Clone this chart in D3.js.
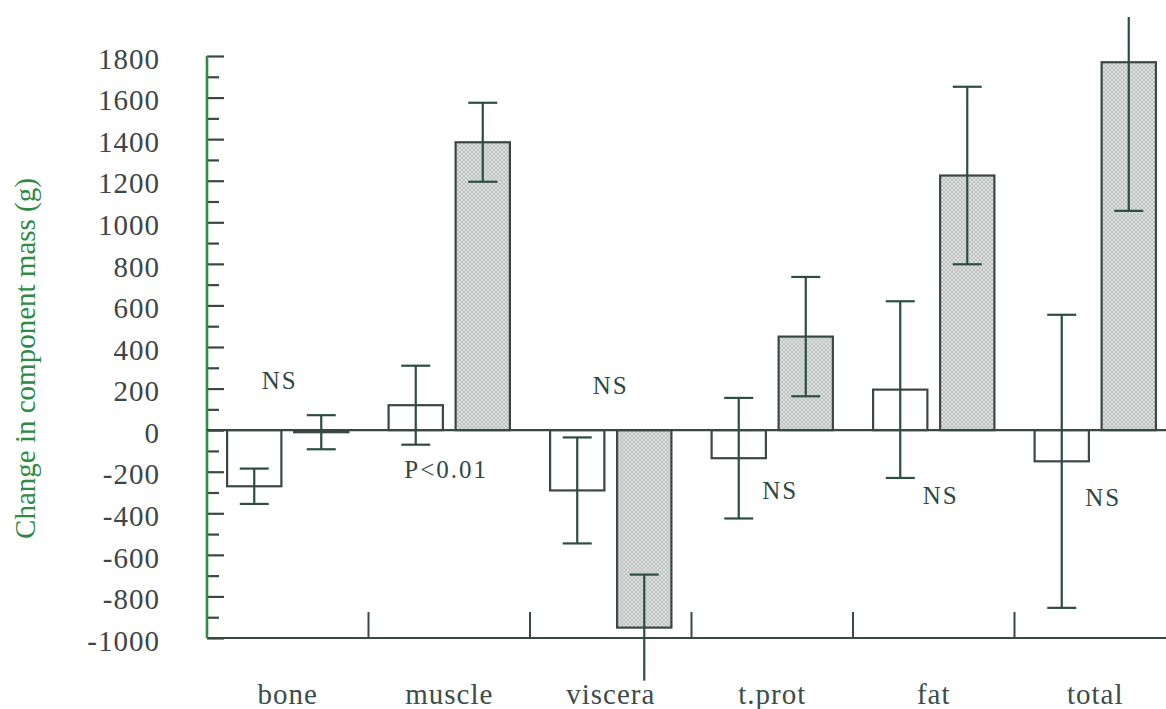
<!DOCTYPE html>
<html>
<head>
<meta charset="utf-8">
<script src="https://cdn.jsdelivr.net/npm/d3@7/dist/d3.min.js"></script>
<style>
  html, body { margin: 0; padding: 0; background: #fff; }
  svg { display: block; }
</style>
</head>
<body>
<svg id="chart" width="1166" height="709"></svg>
<script>
// Change in body component mass, two groups per component (open vs shaded), mean ± error
const categories   = ["bone", "muscle", "viscera", "t.prot", "fat", "total"];
const openMeans    = [-270, 120, -290, -135, 195, -150];
const openErrors   = [85, 190, 255, 290, 425, 705];
const shadedMeans  = [-10, 1385, -950, 450, 1225, 1770];
const shadedErrors = [82, 190, 255, 287, 427, 715];
const significance = ["NS", "P<0.01", "NS", "NS", "NS", "NS"];
const yTicks       = [-1000, -800, -600, -400, -200, 0, 200, 400, 600, 800, 1000, 1200, 1400, 1600, 1800];
const yMinorTicks  = [-900, -700, -500, -300, -100, 100, 300, 500, 700, 900, 1100, 1300, 1500, 1700];
const yTitle       = "Change in component mass (g)";

const W = 1166, H = 709;
const FONT = "'Liberation Serif', 'DejaVu Serif', serif";
const ink = "#3b4745";
const errInk = "#2c4d44";
const green = "#2f8a45";

const svg = d3.select("#chart");

// hatched fill for the shaded bars
const defs = svg.append("defs");
const pat = defs.append("pattern")
  .attr("id", "hatch").attr("patternUnits", "userSpaceOnUse")
  .attr("width", 4).attr("height", 4);
pat.append("rect").attr("width", 4).attr("height", 4).attr("fill", "#dcdfde");
pat.append("path").attr("d", "M0,0 L4,4 M4,0 L0,4")
  .attr("stroke", "#b9bfbd").attr("stroke-width", 0.9);
defs.append("clipPath").attr("id", "plotClip")
  .append("rect").attr("x", 0).attr("y", 17).attr("width", W).attr("height", H - 17);

const x = d3.scaleBand().domain(categories).range([207, 1176]).paddingInner(0).paddingOuter(0);
const sub = d3.scaleBand().domain(["open", "shaded"]).range([0, x.bandwidth()])
  .paddingInner(0.19).paddingOuter(0.3);
const y = d3.scaleLinear().domain([-1000, 1800]).range([638, 56]);

// ---- y axis (ticks point inward) ----
const yAxisG = svg.append("g").attr("transform", `translate(${x.range()[0]},0)`);
yAxisG.call(d3.axisLeft(y).tickValues(yMinorTicks).tickSizeInner(-12).tickSizeOuter(0).tickFormat(""));
yAxisG.selectAll(".tick line").attr("stroke", ink).attr("stroke-width", 2.2);
yAxisG.select(".domain").remove();

const yMajor = svg.append("g").attr("transform", `translate(${x.range()[0]},0)`)
  .call(d3.axisLeft(y).tickValues(yTicks).tickSizeInner(-17).tickSizeOuter(0).tickPadding(47)
    .tickFormat(d3.format("d")));
yMajor.attr("font-family", FONT);
yMajor.selectAll(".tick line").attr("stroke", ink).attr("stroke-width", 2.2);
yMajor.selectAll(".tick text")
  .attr("font-family", FONT)
  .attr("fill", "#3d4646").attr("font-size", 29).attr("letter-spacing", 1)
  .attr("dy", "0.42em")
  .text(d => d < 0 ? "-" + Math.abs(d) : d);
yMajor.select(".domain").remove();

// x baseline and category separators
svg.append("line")
  .attr("x1", x.range()[0]).attr("x2", W)
  .attr("y1", y(-1000)).attr("y2", y(-1000))
  .attr("stroke", ink).attr("stroke-width", 2.2);
svg.append("g").selectAll("line").data(categories.slice(1)).join("line")
  .attr("x1", d => x(d)).attr("x2", d => x(d))
  .attr("y1", y(-1000)).attr("y2", y(-1000) - 26)
  .attr("stroke", ink).attr("stroke-width", 2);

// green y axis line
svg.append("line")
  .attr("x1", x.range()[0]).attr("x2", x.range()[0])
  .attr("y1", y(1800)).attr("y2", y(-1000))
  .attr("stroke", green).attr("stroke-width", 2.6);

// category labels
const xAxisG = svg.append("g").attr("transform", `translate(0,${y(-1000)})`)
  .call(d3.axisBottom(x).tickSize(0).tickPadding(45));
xAxisG.attr("font-family", FONT);
xAxisG.select(".domain").remove();
xAxisG.selectAll(".tick text")
  .attr("font-family", FONT)
  .attr("fill", "#3c4d4a").attr("font-size", 29).attr("letter-spacing", 1)
  .attr("dy", "0.71em");

// y title
svg.append("text")
  .attr("transform", `translate(35,${(182 + 535) / 2}) rotate(-90)`)
  .attr("text-anchor", "middle")
  .attr("font-family", FONT)
  .attr("fill", green).attr("font-size", 29)
  .text(yTitle);

// ---- bars ----
const rows = categories.map((c, i) => [
  { cat: c, kind: "open", mean: openMeans[i], err: openErrors[i] },
  { cat: c, kind: "shaded", mean: shadedMeans[i], err: shadedErrors[i] }
]).flat();

const plot = svg.append("g").attr("clip-path", "url(#plotClip)");

plot.selectAll("rect.bar").data(rows).join("rect")
  .attr("class", "bar")
  .attr("x", d => x(d.cat) + sub(d.kind))
  .attr("width", sub.bandwidth())
  .attr("y", d => y(Math.max(0, d.mean)))
  .attr("height", d => Math.abs(y(d.mean) - y(0)))
  .attr("fill", d => d.kind === "open" ? "#ffffff" : "url(#hatch)")
  .attr("stroke", ink).attr("stroke-width", 2.2);

// zero line
plot.append("line")
  .attr("x1", x.range()[0]).attr("x2", W)
  .attr("y1", y(0)).attr("y2", y(0))
  .attr("stroke", ink).attr("stroke-width", 2.2);

// error bars; caps only drawn where the end lies inside the axis range
const [yLo, yHi] = y.domain();
const capHalf = 14.5;
const eb = plot.selectAll("g.err").data(rows).join("g").attr("class", "err")
  .attr("transform", d => `translate(${x(d.cat) + sub(d.kind) + sub.bandwidth() / 2},0)`);
eb.append("line")
  .attr("y1", d => y(d.mean + d.err)).attr("y2", d => y(d.mean - d.err))
  .attr("stroke", errInk).attr("stroke-width", 2.2);
eb.each(function (d) {
  const g = d3.select(this);
  [d.mean + d.err, d.mean - d.err].forEach(v => {
    if (v >= yLo && v <= yHi) {
      g.append("line").attr("x1", -capHalf).attr("x2", capHalf)
        .attr("y1", y(v)).attr("y2", y(v))
        .attr("stroke", errInk).attr("stroke-width", 2.2);
    }
  });
});

// significance notes: horizontal shift within the band and baseline height in data units
const notePlacement = [
  { dx: -8, at: 200 }, { dx: -3, at: -230 }, { dx: 0, at: 174 },
  { dx: 8, at: -330 }, { dx: 7, at: -354 }, { dx: 8, at: -364 }
];
svg.append("g").selectAll("text").data(significance).join("text")
  .attr("x", (d, i) => x(categories[i]) + x.bandwidth() / 2 + notePlacement[i].dx)
  .attr("y", (d, i) => y(notePlacement[i].at))
  .attr("text-anchor", "middle")
  .attr("font-family", FONT)
  .attr("fill", "#2e4843").attr("font-size", 25).attr("letter-spacing", 2)
  .text(d => d);
</script>
</body>
</html>
